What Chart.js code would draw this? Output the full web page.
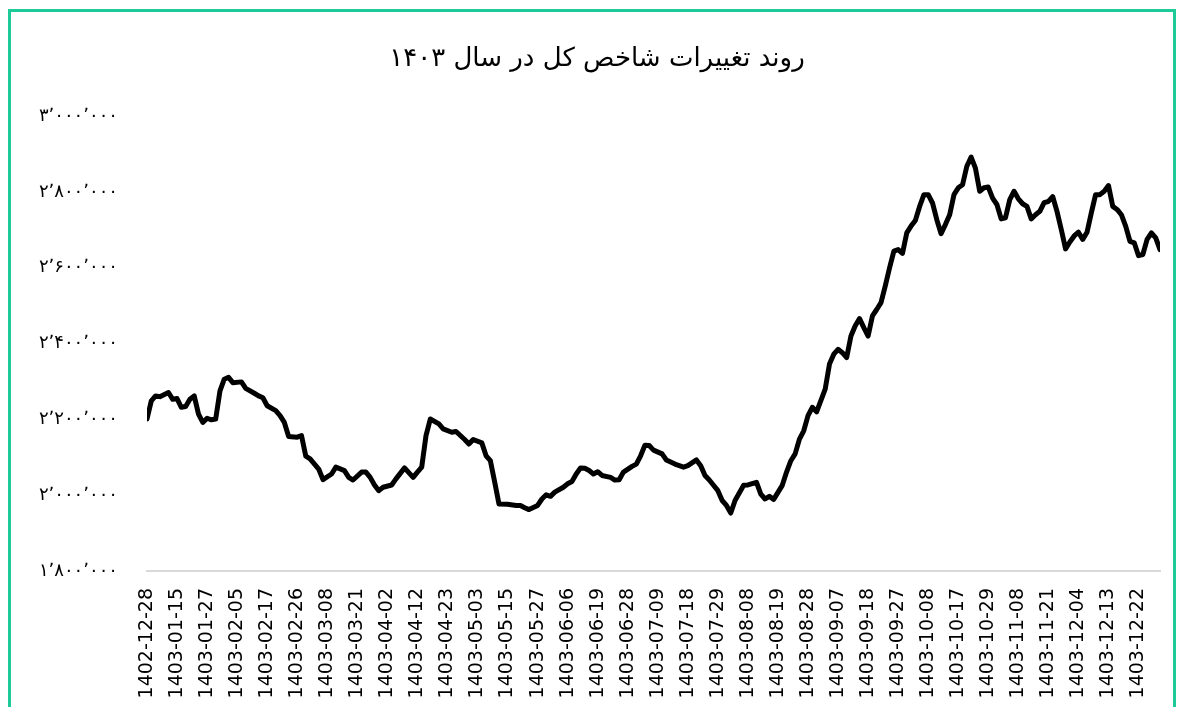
<!DOCTYPE html>
<html>
<head>
<meta charset="utf-8">
<script src="https://cdn.jsdelivr.net/npm/chart.js@4.4.1/dist/chart.umd.min.js"></script>
<style>
  html, body { margin: 0; padding: 0; background: #fff; overflow: hidden; }
  #wrap { position: relative; width: 1185px; height: 707px; }
  #frame { position: absolute; left: 8px; top: 9px; width: 1168px; height: 720px; border: 3px solid #1ecb98; box-sizing: border-box; pointer-events: none; }
</style>
</head>
<body>
<div id="wrap">
  <canvas id="chartIndex" width="1185" height="707"></canvas>
  <div id="frame"></div>
</div>
<script>
// tick labels shown under the x axis, one every 7 trading days
var dateLabels = ["1402-12-28", "1403-01-15", "1403-01-27", "1403-02-05", "1403-02-17", "1403-02-26",
  "1403-03-08", "1403-03-21", "1403-04-02", "1403-04-12", "1403-04-23", "1403-05-03", "1403-05-15",
  "1403-05-27", "1403-06-06", "1403-06-19", "1403-06-28", "1403-07-09", "1403-07-18", "1403-07-29",
  "1403-08-08", "1403-08-19", "1403-08-28", "1403-09-07", "1403-09-18", "1403-09-27", "1403-10-08",
  "1403-10-17", "1403-10-29", "1403-11-08", "1403-11-21", "1403-12-04", "1403-12-13", "1403-12-22"];
var labelEvery = 7;

// trading day number and index value
var tradingDay = [0, 1, 2, 3, 5, 6, 7, 8, 9, 10, 11, 12, 13, 14, 15, 16, 17, 18, 19, 20, 22, 23, 25, 26, 27, 28,
  30, 31, 32, 33, 35, 36, 37, 38, 40, 41, 43, 44, 46, 47, 48, 50, 51, 52, 53, 54, 55, 57, 58, 60, 62, 63, 64,
  65, 66, 68, 69, 71, 72, 74, 75, 76, 78, 79, 80, 81, 82, 84, 86, 87, 88, 89, 91, 92, 93, 94, 95, 97, 98, 99,
  100, 101, 102, 103, 104, 105, 106, 108, 109, 110, 111, 113, 114, 115, 116, 117, 118, 120, 121, 123, 125,
  126, 128, 129, 130, 131, 133, 134, 135, 136, 137, 139, 140, 142, 143, 144, 145, 146, 148, 149, 150, 151,
  152, 153, 154, 155, 156, 158, 159, 160, 161, 162, 163, 164, 165, 166, 167, 168, 169, 170, 171, 172, 173,
  174, 175, 176, 177, 178, 179, 180, 181, 182, 183, 184, 185, 186, 187, 188, 189, 190, 191, 192, 193, 194,
  195, 196, 197, 198, 199, 200, 201, 202, 203, 204, 205, 206, 207, 208, 209, 210, 211, 212, 213, 214, 215,
  216, 217, 218, 219, 220, 221, 222, 223, 224, 225, 226, 227, 228, 229, 230, 231, 232, 233, 234, 235, 236];
var indexValue = [2201000, 2249000, 2262000, 2260000, 2271000, 2253000, 2255000, 2232000, 2234000, 2253000,
  2262000, 2214000, 2192000, 2203000, 2199000, 2201000, 2275000, 2306000, 2311000, 2297000, 2299000, 2282000,
  2269000, 2262000, 2257000, 2236000, 2223000, 2210000, 2192000, 2155000, 2153000, 2157000, 2103000, 2096000,
  2069000, 2041000, 2056000, 2074000, 2065000, 2047000, 2040000, 2061000, 2061000, 2047000, 2027000, 2012000,
  2021000, 2027000, 2043000, 2072000, 2047000, 2061000, 2074000, 2157000, 2201000, 2188000, 2175000, 2166000,
  2168000, 2147000, 2135000, 2147000, 2138000, 2104000, 2091000, 2035000, 1977000, 1976000, 1973000, 1973000,
  1967000, 1962000, 1973000, 1990000, 2001000, 1997000, 2008000, 2021000, 2030000, 2036000, 2056000, 2072000,
  2071000, 2065000, 2056000, 2062000, 2052000, 2047000, 2040000, 2041000, 2061000, 2076000, 2082000, 2104000,
  2132000, 2131000, 2119000, 2109000, 2093000, 2082000, 2074000, 2078000, 2093000, 2078000, 2052000, 2040000,
  2012000, 1986000, 1973000, 1953000, 1986000, 2026000, 2027000, 2034000, 2003000, 1990000, 1997000, 1989000,
  2026000, 2061000, 2091000, 2109000, 2148000, 2170000, 2210000, 2232000, 2220000, 2280000, 2346000, 2372000,
  2385000, 2376000, 2363000, 2420000, 2447000, 2466000, 2442000, 2420000, 2473000, 2490000, 2508000, 2552000,
  2600000, 2644000, 2648000, 2638000, 2692000, 2710000, 2725000, 2762000, 2793000, 2793000, 2771000, 2727000,
  2690000, 2714000, 2740000, 2793000, 2811000, 2819000, 2868000, 2892000, 2863000, 2802000, 2811000, 2813000,
  2784000, 2767000, 2729000, 2732000, 2780000, 2802000, 2782000, 2769000, 2762000, 2729000, 2740000, 2749000,
  2772000, 2775000, 2788000, 2749000, 2701000, 2650000, 2668000, 2684000, 2694000, 2675000, 2694000, 2745000,
  2793000, 2793000, 2802000, 2817000, 2762000, 2754000, 2740000, 2710000, 2670000, 2666000, 2632000, 2635000,
  2675000, 2692000, 2679000, 2648000];

// y axis ticks
var yTickValues = [1800000, 2000000, 2200000, 2400000, 2600000, 2800000, 3000000];
var yTickLabels = ["۱٬۸۰۰٬۰۰۰", "۲٬۰۰۰٬۰۰۰", "۲٬۲۰۰٬۰۰۰", "۲٬۴۰۰٬۰۰۰", "۲٬۶۰۰٬۰۰۰", "۲٬۸۰۰٬۰۰۰", "۳٬۰۰۰٬۰۰۰"];

var chartTitle = "روند تغییرات شاخص کل در سال ۱۴۰۳";

var points = tradingDay.map(function (d, i) {
  return { x: d, y: indexValue[i] };
});

var ctxIndex = document.getElementById("chartIndex");
var myChart = new Chart(ctxIndex, {
  type: 'line',
  data: {
    datasets: [{
      label: "شاخص کل",
      data: points,
      borderColor: "#000000",
      borderWidth: 5,
      pointRadius: 0,
      tension: 0,
      borderJoinStyle: 'round',
      borderCapStyle: 'round',
      fill: false
    }]
  },
  options: {
    responsive: false,
    animation: false,
    devicePixelRatio: 1,
    layout: {
      padding: { left: 9, right: 0, top: 0, bottom: 0 }
    },
    plugins: {
      legend: { display: false },
      tooltip: { enabled: false },
      title: {
        display: true,
        text: chartTitle,
        color: "#000000",
        font: { family: "DejaVu Sans", size: 26, weight: 'normal' },
        padding: { top: 44, bottom: 41 }
      }
    },
    scales: {
      x: {
        type: 'linear',
        min: 0,
        max: 236,
        grid: { display: false, drawTicks: false },
        border: { display: true, color: "#d9d9d9", width: 2 },
        afterFit: function (scale) {
          scale.height = 136;
        },
        ticks: {
          stepSize: labelEvery,
          includeBounds: false,
          autoSkip: false,
          minRotation: 90,
          maxRotation: 90,
          padding: 17,
          color: "#000000",
          font: { family: "DejaVu Sans", size: 19 },
          callback: function (value) {
            var k = value / labelEvery;
            return dateLabels[k] !== undefined ? dateLabels[k] : '';
          }
        }
      },
      y: {
        min: 1800000,
        max: 3000000,
        grid: { display: false, drawTicks: false },
        border: { display: false },
        afterFit: function (scale) {
          scale.width = 138;
        },
        ticks: {
          stepSize: 200000,
          padding: 29,
          color: "#000000",
          font: { family: "DejaVu Sans", size: 18 },
          callback: function (value) {
            var k = yTickValues.indexOf(value);
            return k >= 0 ? yTickLabels[k] : '';
          }
        }
      },
      // empty strip on the right, keeps the plot clear of the frame
      yRight: {
        position: 'right',
        grid: { display: false, drawTicks: false },
        border: { display: false },
        ticks: { display: false },
        afterFit: function (scale) {
          scale.width = 25;
        }
      }
    }
  }
});
</script>
</body>
</html>
